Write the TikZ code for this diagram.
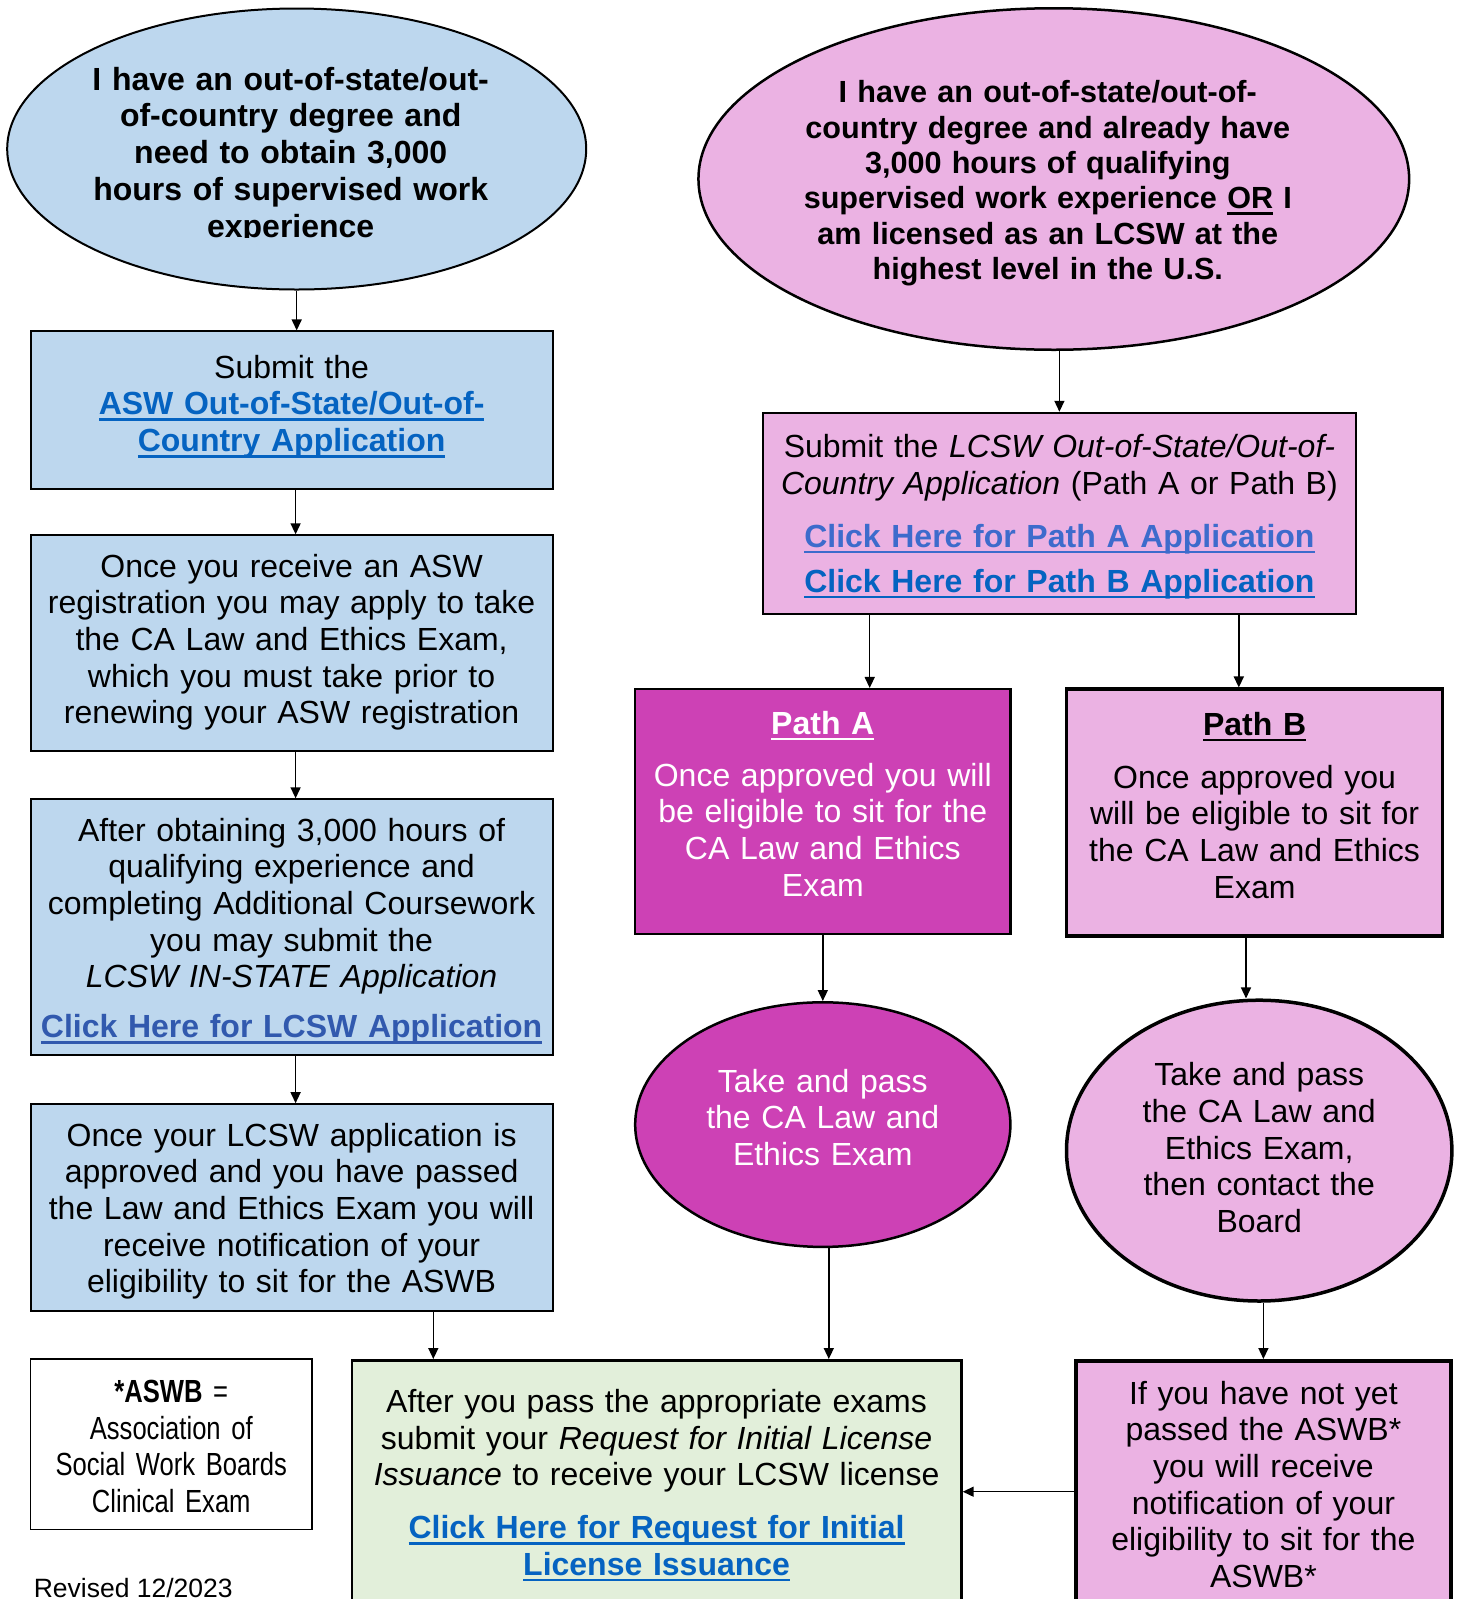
\documentclass[tikz,border=0pt]{standalone}
\usepackage{fontspec}
\setmainfont{Liberation Sans}
\newfontfamily\narrowfont[FakeStretch=0.80]{Liberation Sans}
\usepackage{trimclip}
\usetikzlibrary{shapes.geometric,arrows.meta}
\definecolor{cblue}{HTML}{BDD7EE}
\definecolor{cpink}{HTML}{EBB2E3}
\definecolor{cmag}{HTML}{CD41B5}
\definecolor{cgreen}{HTML}{E2EFDA}
\definecolor{lblue}{HTML}{0563C1}
\definecolor{lblueB}{HTML}{3D6BCC}
\definecolor{lblueC}{HTML}{3159AE}
\newsavebox\ulbox
\newcommand\myul[1]{\leavevmode\sbox\ulbox{#1}\rlap{\rule[-6pt]{\wd\ulbox}{2.6pt}}\usebox\ulbox}
\newcommand\lnk[2][lblue]{{\bfseries\color{#1}\myul{#2}}}
\newcommand\pd{\kern12pt\null}
\tikzset{
  every node/.style={inner sep=0pt, align=center},
  body/.style={font=\fontsize{32}{36.7}\selectfont},
  boxnode/.style={draw, rectangle, body, line width=2pt},
  ellnode/.style={draw, ellipse, body, line width=2pt},
  arr/.style={line width=1.5pt, -{Triangle[length=11pt,width=10pt]}},
}
\begin{document}
\begin{tikzpicture}[x=1pt, y=-1pt]
\useasboundingbox (0,0) rectangle (1459,1599);
% left column
\node[ellnode, fill=cblue, minimum width=579, minimum height=281, text width=480, inner xsep=-40pt,
      text height=31.2pt, text depth=148.8pt, font=\bfseries\fontsize{32}{36.7}\selectfont]
  (e1) at (296.7,149) {I have an out-of-state/out-\pd\\of-country degree and\pd\\need to obtain 3,000\pd\\hours of supervised work\pd\\\clipbox{0pt 6.5pt 0pt 0pt}{experience}\pd};
\node[boxnode, fill=cblue, minimum width=522, minimum height=158, text width=515,
      text height=37.8pt, text depth=102.2pt]
  (b1) at (291.6,410.4) {Submit the\\\lnk{ASW Out-of-State/Out-of-}\\\lnk{Country Application}};
\node[boxnode, fill=cblue, minimum width=522, minimum height=216, text width=515,
      text height=33.7pt, text depth=166.3pt]
  (b2) at (291.6,643.3) {Once you receive an ASW\\registration you may apply to take\\the CA Law and Ethics Exam,\\which you must take prior to\\renewing your ASW registration};
\node[boxnode, fill=cblue, minimum width=522, minimum height=256, text width=515,
      text height=23.8pt, text depth=196.2pt]
  (b3) at (291.6,927.3) {After obtaining 3,000 hours of\\qualifying experience and\\completing Additional Coursework\\you may submit the\\\textit{LCSW IN-STATE Application}\\[13.3pt]\lnk[lblueC]{Click Here for LCSW Application}};
\node[boxnode, fill=cblue, minimum width=522, minimum height=207, text width=515,
      text height=28.3pt, text depth=151.7pt]
  (b4) at (291.6,1207.7) {Once your LCSW application is\\approved and you have passed\\the Law and Ethics Exam you will\\receive notification of your\\eligibility to sit for the ASWB};
\node[draw, rectangle, line width=1.3pt, minimum width=281.4, minimum height=170.4, text width=275,
      text height=28.2pt, text depth=111.8pt, font=\narrowfont\fontsize{32}{36.7}\selectfont]
  (leg) at (171.3,1444.2) {\textbf{*ASWB} =\\Association of\\Social Work Boards\\Clinical Exam};
\node[anchor=base west, font=\fontsize{26.5}{30}\selectfont] (rev) at (33.6,1597) {Revised 12/2023};
% bottom middle
\node[boxnode, fill=cgreen, line width=2.5pt, anchor=north, minimum width=609.7, minimum height=400, text width=600,
      text height=32.1pt, text depth=327.9pt]
  (green) at (656.6,1359) {After you pass the appropriate exams\\submit your \textit{Request for Initial License}\\\textit{Issuance} to receive your LCSW license\\[16.3pt]\lnk{Click Here for Request for Initial}\\\lnk{License Issuance}};
% right column
\node[ellnode, fill=cpink, line width=2.5pt, minimum width=710.7, minimum height=341.5, text width=560, inner xsep=-60pt,
      text height=23.9pt, text depth=176.1pt, font=\bfseries\fontsize{30.6}{35.3}\selectfont]
  (e2) at (1053.8,179) {I have an out-of-state/out-of-\pd\\country degree and already have\pd\\3,000 hours of qualifying\pd\\supervised work experience \myul{OR} I\pd\\am licensed as an LCSW at the\pd\\highest level in the U.S.\pd};
\node[boxnode, fill=cpink, line width=2.5pt, minimum width=593.3, minimum height=200.8, text width=585,
      text height=34.3pt, text depth=145.7pt]
  (lb) at (1059.4,513.4) {Submit the \textit{LCSW Out-of-State/Out-of-}\\\textit{Country Application} (Path A or Path B)\\[16.3pt]\lnk[lblueB]{Click Here for Path A Application}\\[8.1pt]\lnk{Click Here for Path B Application}};
\node[boxnode, fill=cmag, text=white, line width=2.5pt, minimum width=375.2, minimum height=244.8, text width=370,
      text height=32.5pt, text depth=187.5pt]
  (pa) at (822.8,811.6) {\myul{\textbf{Path A}}\\[15.4pt]Once approved you will\\be eligible to sit for the\\CA Law and Ethics\\Exam};
\node[boxnode, fill=cpink, line width=3.5pt, minimum width=376.2, minimum height=246.8, text width=370,
      text height=32.5pt, text depth=187.5pt]
  (pb) at (1254.6,812.6) {\myul{\textbf{Path B}}\\[16.4pt]Once approved you\\will be eligible to sit for\\the CA Law and Ethics\\Exam};
\node[ellnode, fill=cmag, text=white, line width=2.5pt, minimum width=375.2, minimum height=244.6, text width=260,
      text height=17.4pt, text depth=82.6pt]
  (ea) at (822.8,1124.6) {Take and pass\\the CA Law and\\Ethics Exam};
\node[ellnode, fill=cpink, line width=3.5pt, minimum width=385.4, minimum height=300.8, text width=265,
      text height=15.2pt, text depth=144.8pt]
  (eb) at (1259.2,1150.6) {Take and pass\\the CA Law and\\Ethics Exam,\\then contact the\\Board};
\node[boxnode, fill=cpink, line width=3.5pt, anchor=north, minimum width=375.3, minimum height=400, text width=370,
      text height=23.4pt, text depth=336.6pt]
  (pk) at (1263.4,1359) {If you have not yet\\passed the ASWB*\\you will receive\\notification of your\\eligibility to sit for the\\ASWB*};
% connectors
\coordinate (hy) at (0,1491.7);
\draw[arr] (e1.south) -- (e1.south |- b1.north);
\draw[arr] ([xshift=4pt]b1.south) -- ([xshift=4pt]b2.north);
\draw[arr] ([xshift=4pt]b2.south) -- ([xshift=4pt]b3.north);
\draw[arr] ([xshift=4pt]b3.south) -- ([xshift=4pt]b4.north);
\draw[arr] ([xshift=141.7pt]b4.south) -- ([xshift=141.7pt]b4.south |- green.north);
\draw[arr] (lb.north |- e2.south) -- (lb.north);
\draw[arr] ([xshift=46.9pt]pa.north |- lb.south) -- ([xshift=46.9pt]pa.north);
\draw[arr] ([xshift=-15.8pt]pb.north |- lb.south) -- ([xshift=-15.8pt]pb.north);
\draw[arr] (pa.south) -- (ea.north);
\draw[arr] ([xshift=6pt]ea.south) -- ([xshift=6pt]ea.south |- green.north);
\draw[arr] ([xshift=-8.6pt]pb.south) -- ([xshift=-8.6pt]pb.south |- eb.north);
\draw[arr] (pk.north |- eb.south) -- (pk.north);
\draw[arr] (pk.west |- hy) -- (green.east |- hy);
\end{tikzpicture}
\end{document}
